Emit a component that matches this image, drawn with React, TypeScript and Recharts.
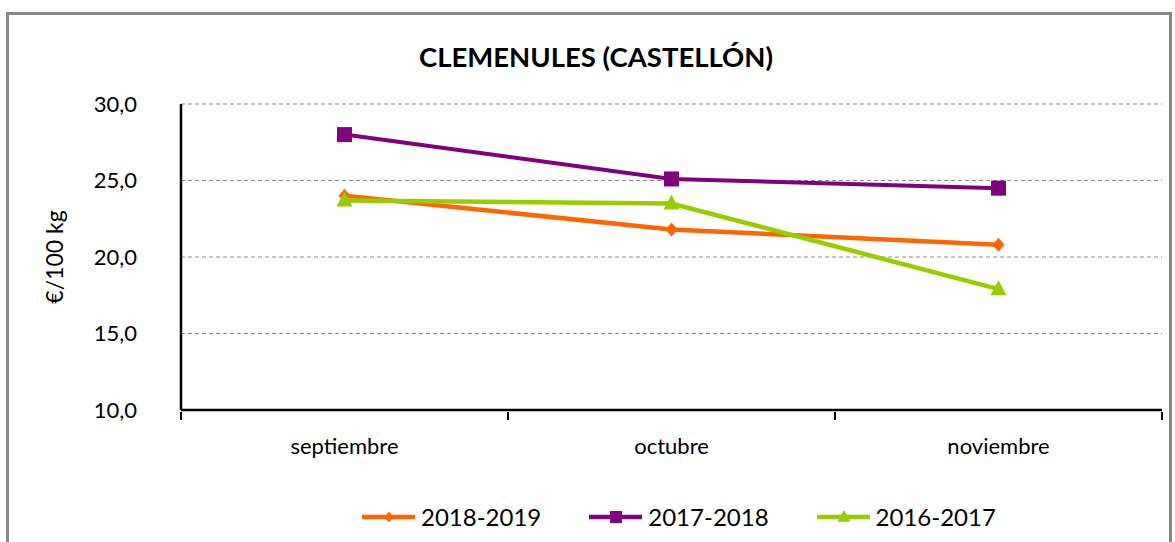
import React from 'react';
import { LineChart, Line, XAxis, YAxis, CartesianGrid } from 'recharts';

const months = ['septiembre', 'octubre', 'noviembre'];
const s2018 = [24.0, 21.8, 20.8];
const s2017 = [28.0, 25.1, 24.5];
const s2016 = [23.7, 23.5, 17.9];
const yTicks = [10, 15, 20, 25, 30];

const series = [
  { key: 's2018', name: '2018-2019', color: '#FF6600', shape: 'diamond', width: 4.5 },
  { key: 's2017', name: '2017-2018', color: '#800080', shape: 'square', width: 4 },
  { key: 's2016', name: '2016-2017', color: '#99CC00', shape: 'triangle', width: 4.5 },
];

const data = months.map((m, i) => ({ month: m, s2018: s2018[i], s2017: s2017[i], s2016: s2016[i] }));

const FONT = 'Lato, "Liberation Sans", sans-serif';

const Marker = ({ cx, cy, shape, color, k = 1 }: any) => {
  if (cx == null || cy == null) return null;
  if (shape === 'diamond') {
    return <path d={`M${cx},${cy - 7 * k} L${cx + 6 * k},${cy} L${cx},${cy + 7 * k} L${cx - 6 * k},${cy} Z`} fill={color} />;
  }
  if (shape === 'square') {
    return <rect x={cx - 7.5 * k} y={cy - 7.5 * k} width={15 * k} height={15 * k} fill={color} />;
  }
  return <path d={`M${cx},${cy - 9 * k} L${cx + 8 * k},${cy + 6 * k} L${cx - 8 * k},${cy + 6 * k} Z`} fill={color} />;
};

// category labels centred in the band, tick marks on the band edges
const MonthTick = (props: any) => {
  const { x, y, payload, index } = props;
  const half = payload.offset || 0;
  const top = y - 6;
  return (
    <g>
      <line x1={x - half} y1={top} x2={x - half} y2={top + 8} stroke="#000" strokeWidth={2} />
      {index === months.length - 1 && (
        <line x1={x + half} y1={top} x2={x + half} y2={top + 8} stroke="#000" strokeWidth={2} />
      )}
      <text x={x} y={top + 36} textAnchor="middle" dominantBaseline="middle" fontSize={22} fontFamily={FONT} fill="#000">
        {payload.value}
      </text>
    </g>
  );
};

const App = () => {
  return (
    <div style={{ position: 'absolute', left: 0, top: 0, width: 1175, height: 542, background: '#fff', overflow: 'hidden' }}>
      <div style={{ position: 'absolute', left: 6, top: 12, width: 1166, height: 560, border: '3px solid #888', boxSizing: 'border-box' }} />
      <div style={{ position: 'absolute', left: 0, top: 40, width: 1192, textAlign: 'center', fontFamily: FONT, fontWeight: 700, fontSize: 27.5, color: '#000' }}>
        CLEMENULES (CASTELLÓN)
      </div>
      <div style={{ position: 'absolute', left: 0, top: 0 }}>
        <LineChart width={1175} height={542} data={data} margin={{ top: 104, right: 13, bottom: 92, left: 101 }}>
          <CartesianGrid vertical={false} stroke="#888" strokeDasharray="4 3" />
          <XAxis
            dataKey="month"
            scale="band"
            tickLine={false}
            tick={<MonthTick />}
            axisLine={{ stroke: '#000', strokeWidth: 2.5 }}
            height={40}
            interval={0}
          />
          <YAxis
            domain={[10, 30]}
            ticks={yTicks}
            width={80}
            tickLine={false}
            tickSize={0}
            tickMargin={44}
            axisLine={{ stroke: '#000', strokeWidth: 2.5 }}
            tick={{ fill: '#000', fontSize: 22, fontFamily: FONT }}
            tickFormatter={(v: number) => v.toFixed(1).replace('.', ',')}
            label={({ viewBox }: any) => (
              <text
                x={57}
                y={viewBox.y + viewBox.height / 2}
                transform={`rotate(-90, 57, ${viewBox.y + viewBox.height / 2})`}
                textAnchor="middle"
                dominantBaseline="middle"
                fontSize={23}
                fontFamily={FONT}
                fill="#000"
              >
                €/100 kg
              </text>
            )}
          />
          {series.map((s) => (
            <Line
              key={s.key}
              dataKey={s.key}
              name={s.name}
              stroke={s.color}
              strokeWidth={s.width}
              isAnimationActive={false}
              dot={(p: any) => <Marker key={`${s.key}-${p.index}`} cx={p.cx} cy={p.cy} shape={s.shape} color={s.color} />}
              activeDot={false}
            />
          ))}
        </LineChart>
      </div>
      <div style={{ position: 'absolute', left: 0, top: 502, width: 1175, display: 'flex', gap: 47, fontFamily: FONT, fontSize: 24, color: '#000', paddingLeft: 361, boxSizing: 'border-box' }}>
        {series.map((s) => (
          <div key={s.key} style={{ display: 'flex', alignItems: 'center', gap: 5 }}>
            <svg width={55} height={24}>
              <line x1={1} y1={12} x2={54} y2={12} stroke={s.color} strokeWidth={4.5} />
              <Marker cx={28} cy={12} shape={s.shape} color={s.color} k={0.8} />
            </svg>
            <span>{s.name}</span>
          </div>
        ))}
      </div>
    </div>
  );
};

export default App;
